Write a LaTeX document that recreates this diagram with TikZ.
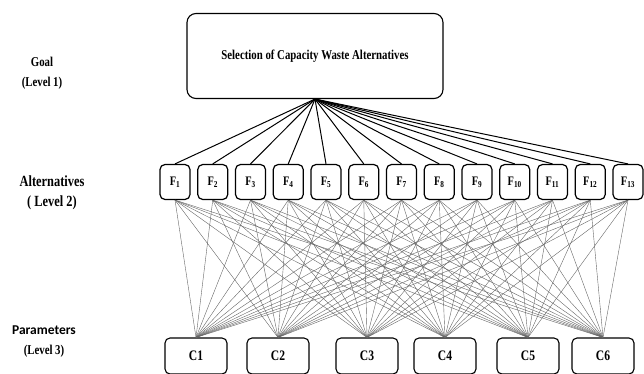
\documentclass[tikz,border=0pt]{standalone}
\usepackage{fontspec}
\setmainfont{Liberation Serif}
\newfontfamily\narrowfont[FakeStretch=0.8]{Liberation Serif}
\newfontfamily\paramfont{Carlito}

\begin{document}
\begin{tikzpicture}[x=1pt, y=-1pt,
	goalbox/.style={draw, line width=1.1pt, rounded corners=9pt, minimum width=256pt, minimum height=85pt, font=\narrowfont\bfseries\fontsize{13.5}{15}\selectfont},
	altbox/.style={draw, line width=1.2pt, rounded corners=5pt, minimum width=30pt, minimum height=35pt, inner sep=0pt, font=\narrowfont\bfseries\fontsize{13}{15}\selectfont},
	parbox/.style={draw, line width=1.1pt, rounded corners=5pt, minimum width=62pt, minimum height=36pt, font=\narrowfont\bfseries\fontsize{14.5}{16}\selectfont},
	levellabel/.style={align=center, font=\narrowfont\bfseries\fontsize{13.5}{20}\selectfont},
	goalline/.style={line width=1pt},
	parline/.style={line width=0.4pt, black!60}]
	\useasboundingbox (0,0) rectangle (644,374);
	% Level labels:
	\node[levellabel] (goallabel) at (42, 73){Goal\\(Level 1)};
	\node[levellabel, font=\narrowfont\bfseries\fontsize{15.5}{20}\selectfont] (altlabel) at (52, 193){Alternatives\\( Level 2)};
	\node[levellabel] (parlabel) at (44, 342){{\paramfont Parameters}\\(Level 3)};
	% Goal, alternatives and parameters:
	\node[goalbox] (goal) at (315, 56){Selection of Capacity Waste Alternatives};
	\foreach \i in {1,...,13}
		\node[altbox] (f\i) at ({175+37.75*(\i-1)}, 182){F\textsubscript{\i}};
	\foreach \j/\x in {1/196, 2/278, 3/367, 4/445, 5/528, 6/603}
		\node[parbox] (c\j) at (\x, 356){C\j};
	% Connectors:
	\foreach \i in {1,...,13}
		\draw[goalline] (goal.south) -- (f\i.north);
	\foreach \i in {1,...,13}
		\foreach \j in {1,...,6}
			\draw[parline] (f\i.south) -- (c\j.north);
\end{tikzpicture}
\end{document}
